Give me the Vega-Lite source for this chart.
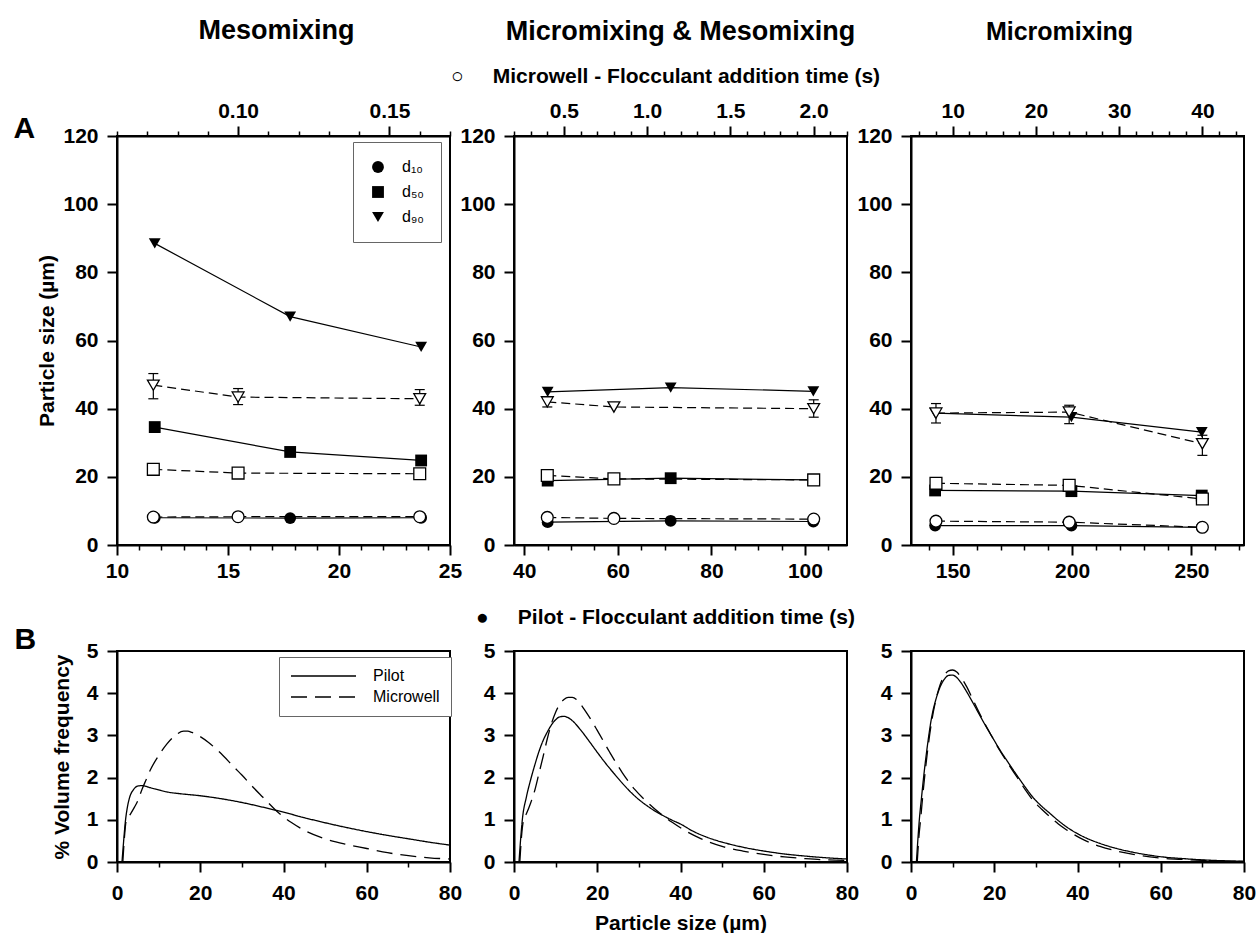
{
"$schema":"https://vega.github.io/schema/vega-lite/v6.json",
"background":"white",
"padding":{"left":12,"top":16,"right":5,"bottom":5},
"config":{
 "font":"Liberation Sans",
 "view":{"stroke":"black","strokeWidth":2},
 "axis":{"domainColor":"black","domainWidth":2,"tickColor":"black","tickWidth":2,"tickSize":10,"labelFont":"Liberation Sans","labelFontSize":21,"labelFontWeight":"bold","labelColor":"black","titleFont":"Liberation Sans","titleFontSize":21,"titleFontWeight":"bold","titleColor":"black","grid":false,"labelFlush":false,"labelOverlap":false},
 "title":{"font":"Liberation Sans","fontSize":27,"fontWeight":"bold","color":"black","anchor":"middle","frame":"group","baseline":"alphabetic"},
 "legend":{"labelFont":"Liberation Sans","labelFontSize":16,"labelColor":"black","strokeColor":"#666","fillColor":"white"}
},
"datasets":{
"psd":[
{"panel":"A1","source":"Pilot","stat":"d₁₀","t":11.7,"size":8.0},
{"panel":"A1","source":"Pilot","stat":"d₅₀","t":11.7,"size":34.6},
{"panel":"A1","source":"Pilot","stat":"d₉₀","t":11.7,"size":88.5},
{"panel":"A1","source":"Pilot","stat":"d₁₀","t":17.8,"size":7.9},
{"panel":"A1","source":"Pilot","stat":"d₅₀","t":17.8,"size":27.3},
{"panel":"A1","source":"Pilot","stat":"d₉₀","t":17.8,"size":67.0},
{"panel":"A1","source":"Pilot","stat":"d₁₀","t":23.7,"size":8.0},
{"panel":"A1","source":"Pilot","stat":"d₅₀","t":23.7,"size":24.8},
{"panel":"A1","source":"Pilot","stat":"d₉₀","t":23.7,"size":58.1},
{"panel":"A1","source":"Microwell","stat":"d₁₀","t":0.072,"size":8.2},
{"panel":"A1","source":"Microwell","stat":"d₅₀","t":0.072,"size":22.2,"lo":21.2,"hi":23.3},
{"panel":"A1","source":"Microwell","stat":"d₉₀","t":0.072,"size":46.9,"lo":42.9,"hi":50.3},
{"panel":"A1","source":"Microwell","stat":"d₁₀","t":0.1,"size":8.3},
{"panel":"A1","source":"Microwell","stat":"d₅₀","t":0.1,"size":21.1},
{"panel":"A1","source":"Microwell","stat":"d₉₀","t":0.1,"size":43.4,"lo":41.2,"hi":45.9},
{"panel":"A1","source":"Microwell","stat":"d₁₀","t":0.16,"size":8.3},
{"panel":"A1","source":"Microwell","stat":"d₅₀","t":0.16,"size":20.9},
{"panel":"A1","source":"Microwell","stat":"d₉₀","t":0.16,"size":42.9,"lo":41.0,"hi":45.6},
{"panel":"A2","source":"Pilot","stat":"d₁₀","t":45.0,"size":6.7},
{"panel":"A2","source":"Pilot","stat":"d₅₀","t":45.0,"size":18.9},
{"panel":"A2","source":"Pilot","stat":"d₉₀","t":45.0,"size":44.9},
{"panel":"A2","source":"Pilot","stat":"d₁₀","t":71.3,"size":7.1},
{"panel":"A2","source":"Pilot","stat":"d₅₀","t":71.3,"size":19.6},
{"panel":"A2","source":"Pilot","stat":"d₉₀","t":71.3,"size":46.2},
{"panel":"A2","source":"Pilot","stat":"d₁₀","t":101.8,"size":6.9},
{"panel":"A2","source":"Pilot","stat":"d₅₀","t":101.8,"size":19.1},
{"panel":"A2","source":"Pilot","stat":"d₉₀","t":101.8,"size":45.1},
{"panel":"A2","source":"Microwell","stat":"d₁₀","t":0.4,"size":8.1},
{"panel":"A2","source":"Microwell","stat":"d₅₀","t":0.4,"size":20.4},
{"panel":"A2","source":"Microwell","stat":"d₉₀","t":0.4,"size":42.0,"lo":40.5,"hi":43.4},
{"panel":"A2","source":"Microwell","stat":"d₁₀","t":0.8,"size":7.8},
{"panel":"A2","source":"Microwell","stat":"d₅₀","t":0.8,"size":19.4},
{"panel":"A2","source":"Microwell","stat":"d₉₀","t":0.8,"size":40.5},
{"panel":"A2","source":"Microwell","stat":"d₁₀","t":2.0,"size":7.6},
{"panel":"A2","source":"Microwell","stat":"d₅₀","t":2.0,"size":19.1},
{"panel":"A2","source":"Microwell","stat":"d₉₀","t":2.0,"size":40.0,"lo":37.5,"hi":42.6},
{"panel":"A3","source":"Pilot","stat":"d₁₀","t":142.6,"size":5.7},
{"panel":"A3","source":"Pilot","stat":"d₅₀","t":142.6,"size":16.0},
{"panel":"A3","source":"Pilot","stat":"d₉₀","t":142.6,"size":38.7},
{"panel":"A3","source":"Pilot","stat":"d₁₀","t":199.7,"size":5.7},
{"panel":"A3","source":"Pilot","stat":"d₅₀","t":199.7,"size":15.8},
{"panel":"A3","source":"Pilot","stat":"d₉₀","t":199.7,"size":37.5},
{"panel":"A3","source":"Pilot","stat":"d₁₀","t":254.3,"size":5.2},
{"panel":"A3","source":"Pilot","stat":"d₅₀","t":254.3,"size":14.5},
{"panel":"A3","source":"Pilot","stat":"d₉₀","t":254.3,"size":33.1},
{"panel":"A3","source":"Microwell","stat":"d₁₀","t":8,"size":7.0},
{"panel":"A3","source":"Microwell","stat":"d₅₀","t":8,"size":18.1},
{"panel":"A3","source":"Microwell","stat":"d₉₀","t":8,"size":38.7,"lo":35.8,"hi":41.5},
{"panel":"A3","source":"Microwell","stat":"d₁₀","t":24,"size":6.7},
{"panel":"A3","source":"Microwell","stat":"d₅₀","t":24,"size":17.5},
{"panel":"A3","source":"Microwell","stat":"d₉₀","t":24,"size":39.0,"lo":35.6,"hi":41.0},
{"panel":"A3","source":"Microwell","stat":"d₁₀","t":40,"size":5.2},
{"panel":"A3","source":"Microwell","stat":"d₅₀","t":40,"size":13.5},
{"panel":"A3","source":"Microwell","stat":"d₉₀","t":40,"size":29.7,"lo":26.3,"hi":32.2}
],
"dist":[
{"panel":"B1","source":"Pilot","x":1.2,"y":0},{"panel":"B1","source":"Pilot","x":1.6,"y":0.5},{"panel":"B1","source":"Pilot","x":2,"y":0.95},{"panel":"B1","source":"Pilot","x":2.5,"y":1.3},{"panel":"B1","source":"Pilot","x":3,"y":1.52},{"panel":"B1","source":"Pilot","x":4,"y":1.72},{"panel":"B1","source":"Pilot","x":5,"y":1.8},{"panel":"B1","source":"Pilot","x":6,"y":1.81},{"panel":"B1","source":"Pilot","x":7,"y":1.79},{"panel":"B1","source":"Pilot","x":8,"y":1.76},{"panel":"B1","source":"Pilot","x":10,"y":1.71},{"panel":"B1","source":"Pilot","x":12,"y":1.66},{"panel":"B1","source":"Pilot","x":15,"y":1.62},{"panel":"B1","source":"Pilot","x":20,"y":1.57},{"panel":"B1","source":"Pilot","x":25,"y":1.5},{"panel":"B1","source":"Pilot","x":30,"y":1.41},{"panel":"B1","source":"Pilot","x":35,"y":1.3},{"panel":"B1","source":"Pilot","x":40,"y":1.18},{"panel":"B1","source":"Pilot","x":45,"y":1.05},{"panel":"B1","source":"Pilot","x":50,"y":0.93},{"panel":"B1","source":"Pilot","x":55,"y":0.82},{"panel":"B1","source":"Pilot","x":60,"y":0.72},{"panel":"B1","source":"Pilot","x":65,"y":0.63},{"panel":"B1","source":"Pilot","x":70,"y":0.55},{"panel":"B1","source":"Pilot","x":75,"y":0.47},{"panel":"B1","source":"Pilot","x":80,"y":0.4},
{"panel":"B1","source":"Microwell","x":1.4,"y":0},{"panel":"B1","source":"Microwell","x":1.8,"y":0.6},{"panel":"B1","source":"Microwell","x":2.2,"y":0.97},{"panel":"B1","source":"Microwell","x":3,"y":1.1},{"panel":"B1","source":"Microwell","x":4.2,"y":1.3},{"panel":"B1","source":"Microwell","x":5,"y":1.45},{"panel":"B1","source":"Microwell","x":6,"y":1.72},{"panel":"B1","source":"Microwell","x":7,"y":1.95},{"panel":"B1","source":"Microwell","x":8,"y":2.18},{"panel":"B1","source":"Microwell","x":10,"y":2.52},{"panel":"B1","source":"Microwell","x":12,"y":2.8},{"panel":"B1","source":"Microwell","x":14,"y":3.0},{"panel":"B1","source":"Microwell","x":16,"y":3.1},{"panel":"B1","source":"Microwell","x":17,"y":3.1},{"panel":"B1","source":"Microwell","x":18,"y":3.07},{"panel":"B1","source":"Microwell","x":20,"y":2.97},{"panel":"B1","source":"Microwell","x":22,"y":2.83},{"panel":"B1","source":"Microwell","x":25,"y":2.57},{"panel":"B1","source":"Microwell","x":28,"y":2.26},{"panel":"B1","source":"Microwell","x":30,"y":2.06},{"panel":"B1","source":"Microwell","x":33,"y":1.74},{"panel":"B1","source":"Microwell","x":35,"y":1.54},{"panel":"B1","source":"Microwell","x":38,"y":1.24},{"panel":"B1","source":"Microwell","x":40,"y":1.07},{"panel":"B1","source":"Microwell","x":42,"y":0.93},{"panel":"B1","source":"Microwell","x":45,"y":0.75},{"panel":"B1","source":"Microwell","x":50,"y":0.55},{"panel":"B1","source":"Microwell","x":55,"y":0.42},{"panel":"B1","source":"Microwell","x":60,"y":0.32},{"panel":"B1","source":"Microwell","x":65,"y":0.22},{"panel":"B1","source":"Microwell","x":70,"y":0.15},{"panel":"B1","source":"Microwell","x":75,"y":0.1},{"panel":"B1","source":"Microwell","x":80,"y":0.07},
{"panel":"B2","source":"Pilot","x":1.2,"y":0},{"panel":"B2","source":"Pilot","x":1.6,"y":0.55},{"panel":"B2","source":"Pilot","x":2,"y":1.0},{"panel":"B2","source":"Pilot","x":3,"y":1.55},{"panel":"B2","source":"Pilot","x":4,"y":1.95},{"panel":"B2","source":"Pilot","x":5,"y":2.3},{"panel":"B2","source":"Pilot","x":6,"y":2.62},{"panel":"B2","source":"Pilot","x":7,"y":2.88},{"panel":"B2","source":"Pilot","x":8,"y":3.08},{"panel":"B2","source":"Pilot","x":9,"y":3.25},{"panel":"B2","source":"Pilot","x":10,"y":3.37},{"panel":"B2","source":"Pilot","x":11,"y":3.44},{"panel":"B2","source":"Pilot","x":12,"y":3.45},{"panel":"B2","source":"Pilot","x":13,"y":3.42},{"panel":"B2","source":"Pilot","x":14,"y":3.35},{"panel":"B2","source":"Pilot","x":16,"y":3.13},{"panel":"B2","source":"Pilot","x":18,"y":2.87},{"panel":"B2","source":"Pilot","x":20,"y":2.6},{"panel":"B2","source":"Pilot","x":22,"y":2.34},{"panel":"B2","source":"Pilot","x":24,"y":2.1},{"panel":"B2","source":"Pilot","x":26,"y":1.87},{"panel":"B2","source":"Pilot","x":28,"y":1.66},{"panel":"B2","source":"Pilot","x":30,"y":1.48},{"panel":"B2","source":"Pilot","x":32,"y":1.33},{"panel":"B2","source":"Pilot","x":34,"y":1.2},{"panel":"B2","source":"Pilot","x":36,"y":1.09},{"panel":"B2","source":"Pilot","x":38,"y":0.99},{"panel":"B2","source":"Pilot","x":40,"y":0.9},{"panel":"B2","source":"Pilot","x":43,"y":0.73},{"panel":"B2","source":"Pilot","x":46,"y":0.6},{"panel":"B2","source":"Pilot","x":50,"y":0.47},{"panel":"B2","source":"Pilot","x":55,"y":0.35},{"panel":"B2","source":"Pilot","x":60,"y":0.26},{"panel":"B2","source":"Pilot","x":65,"y":0.19},{"panel":"B2","source":"Pilot","x":70,"y":0.14},{"panel":"B2","source":"Pilot","x":75,"y":0.1},{"panel":"B2","source":"Pilot","x":80,"y":0.07},
{"panel":"B2","source":"Microwell","x":1.4,"y":0},{"panel":"B2","source":"Microwell","x":1.8,"y":0.6},{"panel":"B2","source":"Microwell","x":2.3,"y":1.0},{"panel":"B2","source":"Microwell","x":3,"y":1.15},{"panel":"B2","source":"Microwell","x":4,"y":1.4},{"panel":"B2","source":"Microwell","x":5,"y":1.7},{"panel":"B2","source":"Microwell","x":6,"y":2.1},{"panel":"B2","source":"Microwell","x":7,"y":2.5},{"panel":"B2","source":"Microwell","x":8,"y":2.92},{"panel":"B2","source":"Microwell","x":9,"y":3.28},{"panel":"B2","source":"Microwell","x":10,"y":3.55},{"panel":"B2","source":"Microwell","x":11,"y":3.74},{"panel":"B2","source":"Microwell","x":12,"y":3.85},{"panel":"B2","source":"Microwell","x":13,"y":3.9},{"panel":"B2","source":"Microwell","x":14,"y":3.9},{"panel":"B2","source":"Microwell","x":15,"y":3.85},{"panel":"B2","source":"Microwell","x":16,"y":3.74},{"panel":"B2","source":"Microwell","x":17,"y":3.6},{"panel":"B2","source":"Microwell","x":18,"y":3.45},{"panel":"B2","source":"Microwell","x":20,"y":3.12},{"panel":"B2","source":"Microwell","x":23,"y":2.6},{"panel":"B2","source":"Microwell","x":26,"y":2.12},{"panel":"B2","source":"Microwell","x":29,"y":1.72},{"panel":"B2","source":"Microwell","x":32,"y":1.42},{"panel":"B2","source":"Microwell","x":35,"y":1.16},{"panel":"B2","source":"Microwell","x":38,"y":0.94},{"panel":"B2","source":"Microwell","x":40,"y":0.81},{"panel":"B2","source":"Microwell","x":45,"y":0.55},{"panel":"B2","source":"Microwell","x":50,"y":0.37},{"panel":"B2","source":"Microwell","x":55,"y":0.26},{"panel":"B2","source":"Microwell","x":60,"y":0.18},{"panel":"B2","source":"Microwell","x":65,"y":0.12},{"panel":"B2","source":"Microwell","x":70,"y":0.08},{"panel":"B2","source":"Microwell","x":75,"y":0.05},{"panel":"B2","source":"Microwell","x":80,"y":0.04},
{"panel":"B3","source":"Pilot","x":1.3,"y":0},{"panel":"B3","source":"Pilot","x":1.7,"y":0.6},{"panel":"B3","source":"Pilot","x":2,"y":1.0},{"panel":"B3","source":"Pilot","x":2.5,"y":1.5},{"panel":"B3","source":"Pilot","x":3,"y":1.98},{"panel":"B3","source":"Pilot","x":4,"y":2.8},{"panel":"B3","source":"Pilot","x":5,"y":3.45},{"panel":"B3","source":"Pilot","x":6,"y":3.86},{"panel":"B3","source":"Pilot","x":7,"y":4.15},{"panel":"B3","source":"Pilot","x":8,"y":4.33},{"panel":"B3","source":"Pilot","x":9,"y":4.42},{"panel":"B3","source":"Pilot","x":10,"y":4.43},{"panel":"B3","source":"Pilot","x":11,"y":4.37},{"panel":"B3","source":"Pilot","x":12,"y":4.25},{"panel":"B3","source":"Pilot","x":13.4,"y":4.03},{"panel":"B3","source":"Pilot","x":15,"y":3.75},{"panel":"B3","source":"Pilot","x":17.4,"y":3.32},{"panel":"B3","source":"Pilot","x":19.4,"y":2.98},{"panel":"B3","source":"Pilot","x":21.4,"y":2.65},{"panel":"B3","source":"Pilot","x":23.4,"y":2.35},{"panel":"B3","source":"Pilot","x":25.4,"y":2.06},{"panel":"B3","source":"Pilot","x":27.4,"y":1.78},{"panel":"B3","source":"Pilot","x":29.4,"y":1.52},{"panel":"B3","source":"Pilot","x":31.4,"y":1.32},{"panel":"B3","source":"Pilot","x":33.4,"y":1.15},{"panel":"B3","source":"Pilot","x":35.4,"y":0.98},{"panel":"B3","source":"Pilot","x":37.4,"y":0.83},{"panel":"B3","source":"Pilot","x":41.4,"y":0.6},{"panel":"B3","source":"Pilot","x":45.4,"y":0.44},{"panel":"B3","source":"Pilot","x":49.4,"y":0.32},{"panel":"B3","source":"Pilot","x":53.4,"y":0.23},{"panel":"B3","source":"Pilot","x":57.4,"y":0.16},{"panel":"B3","source":"Pilot","x":61.4,"y":0.11},{"panel":"B3","source":"Pilot","x":65.4,"y":0.08},{"panel":"B3","source":"Pilot","x":70,"y":0.05},{"panel":"B3","source":"Pilot","x":75,"y":0.03},{"panel":"B3","source":"Pilot","x":80,"y":0.02},
{"panel":"B3","source":"Microwell","x":1.5,"y":0},{"panel":"B3","source":"Microwell","x":1.9,"y":0.6},{"panel":"B3","source":"Microwell","x":2.3,"y":1.0},{"panel":"B3","source":"Microwell","x":3,"y":1.75},{"panel":"B3","source":"Microwell","x":4,"y":2.65},{"panel":"B3","source":"Microwell","x":5,"y":3.35},{"panel":"B3","source":"Microwell","x":6,"y":3.85},{"panel":"B3","source":"Microwell","x":7,"y":4.2},{"panel":"B3","source":"Microwell","x":8,"y":4.42},{"panel":"B3","source":"Microwell","x":9,"y":4.53},{"panel":"B3","source":"Microwell","x":10,"y":4.55},{"panel":"B3","source":"Microwell","x":11,"y":4.5},{"panel":"B3","source":"Microwell","x":12,"y":4.38},{"panel":"B3","source":"Microwell","x":13.4,"y":4.15},{"panel":"B3","source":"Microwell","x":15,"y":3.82},{"panel":"B3","source":"Microwell","x":17.4,"y":3.34},{"panel":"B3","source":"Microwell","x":19.4,"y":2.98},{"panel":"B3","source":"Microwell","x":21.4,"y":2.63},{"panel":"B3","source":"Microwell","x":23.4,"y":2.32},{"panel":"B3","source":"Microwell","x":25.4,"y":2.02},{"panel":"B3","source":"Microwell","x":27.4,"y":1.72},{"panel":"B3","source":"Microwell","x":29.4,"y":1.45},{"panel":"B3","source":"Microwell","x":31.4,"y":1.25},{"panel":"B3","source":"Microwell","x":33.4,"y":1.07},{"panel":"B3","source":"Microwell","x":35.4,"y":0.9},{"panel":"B3","source":"Microwell","x":37.4,"y":0.76},{"panel":"B3","source":"Microwell","x":41.4,"y":0.53},{"panel":"B3","source":"Microwell","x":45.4,"y":0.37},{"panel":"B3","source":"Microwell","x":49.4,"y":0.26},{"panel":"B3","source":"Microwell","x":53.4,"y":0.18},{"panel":"B3","source":"Microwell","x":57.4,"y":0.12},{"panel":"B3","source":"Microwell","x":61.4,"y":0.08},{"panel":"B3","source":"Microwell","x":65.4,"y":0.06},{"panel":"B3","source":"Microwell","x":70,"y":0.04},{"panel":"B3","source":"Microwell","x":75,"y":0.02},{"panel":"B3","source":"Microwell","x":80,"y":0.01}
]
},
"columns":3,
"spacing":{"row":106,"column":64},
"bounds":"flush",
"resolve":{"scale":{"shape":"independent","strokeDash":"independent"},"legend":{"shape":"independent","strokeDash":"independent"}},
"concat":[
{
 "width":333,"height":409,
 "title":{"text":"Mesomixing","offset":55,"dx":-7},
 "data":{"name":"psd"},
 "transform":[{"filter":"datum.panel === 'A1'"}],
 "resolve":{"scale":{"x":"independent"}},
 "layer":[
  {"transform":[{"filter":"datum.source === 'Pilot'"}],
   "encoding":{"y":{"field":"size","type":"quantitative","scale":{"domain":[0,120],"nice":false},"axis":{"values":[0,20,40,60,80,100,120],"title":"Particle size (µm)","titlePadding":5,"labelPadding":9}}},
   "resolve":{"axis":{"x":"independent"}},
   "layer":[
    {"mark":{"type":"line","color":"black","strokeWidth":1.2},"encoding":{"x":{"field":"t","type":"quantitative","scale":{"domain":[10,25],"nice":false,"zero":false},"axis":{"orient":"bottom","values":[10,15,20,25],"tickSize":10,"labelPadding":5,"title":null}},"detail":{"field":"stat","type":"nominal"}}},
    {"mark":{"type":"point","filled":true,"color":"black","size":140,"opacity":1},"encoding":{"x":{"field":"t","type":"quantitative","scale":{"domain":[10,25],"nice":false,"zero":false},"axis":{"orient":"bottom","values":[11,12,13,14,16,17,18,19,21,22,23,24],"labels":false,"domain":false,"tickSize":5,"tickWidth":1.5,"title":null}},"shape":{"field":"stat","type":"nominal","scale":{"domain":["d₁₀","d₅₀","d₉₀"],"range":["circle","square","triangle-down"]},"legend":{"orient":"none","legendX":236,"legendY":6,"title":null,"padding":17,"symbolSize":140,"symbolFillColor":"black","symbolStrokeColor":"black","symbolStrokeWidth":0,"labelOffset":16,"rowPadding":9}}}}
   ]},
  {"transform":[{"filter":"datum.source === 'Microwell'"}],
   "encoding":{"y":{"field":"size","type":"quantitative","scale":{"domain":[0,120],"nice":false},"axis":{"values":[0,20,40,60,80,100,120],"title":"Particle size (µm)","titlePadding":5,"labelPadding":9}}},
   "resolve":{"axis":{"x":"independent"}},
   "layer":[
    {"encoding":{"x":{"field":"t","type":"quantitative","scale":{"domain":[0.06,0.17],"nice":false,"zero":false},"axis":{"orient":"top","values":[0.1,0.15],"format":".2f","tickSize":10,"labelPadding":5,"title":"A","titleFontSize":30,"titleX":-104,"titleY":1,"titleAlign":"left","titleBaseline":"alphabetic","titleAngle":0}}},
     "layer":[
      {"mark":{"type":"line","color":"black","strokeWidth":1.2,"strokeDash":[9,5]},"encoding":{"detail":{"field":"stat","type":"nominal"}}},
      {"transform":[{"filter":"isValid(datum.lo)"}],"mark":{"type":"rule","color":"black","strokeWidth":1.2},"encoding":{"y":{"field":"lo","type":"quantitative","scale":{"domain":[0,120],"nice":false},"axis":{"values":[0,20,40,60,80,100,120],"title":"Particle size (µm)","titlePadding":5,"labelPadding":9}},"y2":{"field":"hi"}}},
      {"transform":[{"filter":"isValid(datum.lo)"}],"mark":{"type":"tick","orient":"horizontal","size":10,"thickness":1.2,"color":"black","opacity":1},"encoding":{"y":{"field":"lo","type":"quantitative","scale":{"domain":[0,120],"nice":false},"axis":{"values":[0,20,40,60,80,100,120],"title":"Particle size (µm)","titlePadding":5,"labelPadding":9}}}},
      {"transform":[{"filter":"isValid(datum.hi)"}],"mark":{"type":"tick","orient":"horizontal","size":10,"thickness":1.2,"color":"black","opacity":1},"encoding":{"y":{"field":"hi","type":"quantitative","scale":{"domain":[0,120],"nice":false},"axis":{"values":[0,20,40,60,80,100,120],"title":"Particle size (µm)","titlePadding":5,"labelPadding":9}}}}
     ]},
    {"mark":{"type":"point","filled":true,"fill":"white","stroke":"black","strokeWidth":1.3,"size":140,"opacity":1},"encoding":{"x":{"field":"t","type":"quantitative","scale":{"domain":[0.06,0.17],"nice":false,"zero":false},"axis":{"orient":"top","values":[0.06,0.07,0.08,0.09,0.11,0.12,0.13,0.14,0.16,0.17],"labels":false,"domain":false,"tickSize":5,"tickWidth":1.5,"title":null}},"shape":{"field":"stat","type":"nominal","scale":{"domain":["d₁₀","d₅₀","d₉₀"],"range":["circle","square","triangle-down"]},"legend":null}}}
   ]}
 ]
},
{
 "width":333,"height":409,
 "title":{"text":"Micromixing & Mesomixing","offset":19},
 "data":{"name":"psd"},
 "transform":[{"filter":"datum.panel === 'A2'"}],
 "resolve":{"scale":{"x":"independent"}},
 "layer":[
  {"transform":[{"filter":"datum.source === 'Pilot'"}],
   "encoding":{"y":{"field":"size","type":"quantitative","scale":{"domain":[0,120],"nice":false},"axis":{"values":[0,20,40,60,80,100,120],"title":null,"labelPadding":9}}},
   "resolve":{"axis":{"x":"independent"}},
   "layer":[
    {"mark":{"type":"line","color":"black","strokeWidth":1.2},"encoding":{"x":{"field":"t","type":"quantitative","scale":{"domain":[37.8,109],"nice":false,"zero":false},"axis":{"orient":"bottom","values":[40,60,80,100],"tickSize":10,"labelPadding":5,"title":"●\u00a0\u00a0\u00a0\u00a0\u00a0Pilot - Flocculant addition time (s)","titleX":151,"titleY":72,"titleAlign":"center","titleBaseline":"middle"}},"detail":{"field":"stat","type":"nominal"}}},
    {"mark":{"type":"point","filled":true,"color":"black","size":140,"opacity":1},"encoding":{"x":{"field":"t","type":"quantitative","scale":{"domain":[37.8,109],"nice":false,"zero":false},"axis":{"orient":"bottom","values":[45,50,55,65,70,75,85,90,95,105],"labels":false,"domain":false,"tickSize":5,"tickWidth":1.5,"title":null}},"shape":{"field":"stat","type":"nominal","scale":{"domain":["d₁₀","d₅₀","d₉₀"],"range":["circle","square","triangle-down"]},"legend":null}}}
   ]},
  {"transform":[{"filter":"datum.source === 'Microwell'"}],
   "encoding":{"y":{"field":"size","type":"quantitative","scale":{"domain":[0,120],"nice":false},"axis":{"values":[0,20,40,60,80,100,120],"title":null,"labelPadding":9}}},
   "resolve":{"axis":{"x":"independent"}},
   "layer":[
    {"encoding":{"x":{"field":"t","type":"quantitative","scale":{"domain":[0.2,2.2],"nice":false,"zero":false},"axis":{"orient":"top","values":[0.5,1,1.5,2],"format":".1f","tickSize":10,"labelPadding":5,"title":"○\u00a0\u00a0\u00a0\u00a0\u00a0Microwell - Flocculant addition time (s)","titleX":151,"titleY":-60,"titleAlign":"center","titleBaseline":"middle"}}},
     "layer":[
      {"mark":{"type":"line","color":"black","strokeWidth":1.2,"strokeDash":[9,5]},"encoding":{"detail":{"field":"stat","type":"nominal"}}},
      {"transform":[{"filter":"isValid(datum.lo)"}],"mark":{"type":"rule","color":"black","strokeWidth":1.2},"encoding":{"y":{"field":"lo","type":"quantitative","scale":{"domain":[0,120],"nice":false},"axis":{"values":[0,20,40,60,80,100,120],"title":null,"labelPadding":9}},"y2":{"field":"hi"}}},
      {"transform":[{"filter":"isValid(datum.lo)"}],"mark":{"type":"tick","orient":"horizontal","size":10,"thickness":1.2,"color":"black","opacity":1},"encoding":{"y":{"field":"lo","type":"quantitative","scale":{"domain":[0,120],"nice":false},"axis":{"values":[0,20,40,60,80,100,120],"title":null,"labelPadding":9}}}},
      {"transform":[{"filter":"isValid(datum.hi)"}],"mark":{"type":"tick","orient":"horizontal","size":10,"thickness":1.2,"color":"black","opacity":1},"encoding":{"y":{"field":"hi","type":"quantitative","scale":{"domain":[0,120],"nice":false},"axis":{"values":[0,20,40,60,80,100,120],"title":null,"labelPadding":9}}}}
     ]},
    {"mark":{"type":"point","filled":true,"fill":"white","stroke":"black","strokeWidth":1.3,"size":140,"opacity":1},"encoding":{"x":{"field":"t","type":"quantitative","scale":{"domain":[0.2,2.2],"nice":false,"zero":false},"axis":{"orient":"top","values":[0.2,0.3,0.4,0.6,0.7,0.8,0.9,1.1,1.2,1.3,1.4,1.6,1.7,1.8,1.9,2.1,2.2],"labels":false,"domain":false,"tickSize":5,"tickWidth":1.5,"title":null}},"shape":{"field":"stat","type":"nominal","scale":{"domain":["d₁₀","d₅₀","d₉₀"],"range":["circle","square","triangle-down"]},"legend":null}}}
   ]}
 ]
},
{
 "width":333,"height":409,
 "title":{"text":"Micromixing","offset":55,"dx":-18,"fontSize":25},
 "data":{"name":"psd"},
 "transform":[{"filter":"datum.panel === 'A3'"}],
 "resolve":{"scale":{"x":"independent"}},
 "layer":[
  {"transform":[{"filter":"datum.source === 'Pilot'"}],
   "encoding":{"y":{"field":"size","type":"quantitative","scale":{"domain":[0,120],"nice":false},"axis":{"values":[0,20,40,60,80,100,120],"title":null,"labelPadding":9}}},
   "resolve":{"axis":{"x":"independent"}},
   "layer":[
    {"mark":{"type":"line","color":"black","strokeWidth":1.2},"encoding":{"x":{"field":"t","type":"quantitative","scale":{"domain":[132.5,272],"nice":false,"zero":false},"axis":{"orient":"bottom","values":[150,200,250],"tickSize":10,"labelPadding":5,"title":null}},"detail":{"field":"stat","type":"nominal"}}},
    {"mark":{"type":"point","filled":true,"color":"black","size":140,"opacity":1},"encoding":{"x":{"field":"t","type":"quantitative","scale":{"domain":[132.5,272],"nice":false,"zero":false},"axis":{"orient":"bottom","values":[140,160,170,180,190,210,220,230,240,260,270],"labels":false,"domain":false,"tickSize":5,"tickWidth":1.5,"title":null}},"shape":{"field":"stat","type":"nominal","scale":{"domain":["d₁₀","d₅₀","d₉₀"],"range":["circle","square","triangle-down"]},"legend":null}}}
   ]},
  {"transform":[{"filter":"datum.source === 'Microwell'"}],
   "encoding":{"y":{"field":"size","type":"quantitative","scale":{"domain":[0,120],"nice":false},"axis":{"values":[0,20,40,60,80,100,120],"title":null,"labelPadding":9}}},
   "resolve":{"axis":{"x":"independent"}},
   "layer":[
    {"encoding":{"x":{"field":"t","type":"quantitative","scale":{"domain":[5,45],"nice":false,"zero":false},"axis":{"orient":"top","values":[10,20,30,40],"tickSize":10,"labelPadding":5,"title":null}}},
     "layer":[
      {"mark":{"type":"line","color":"black","strokeWidth":1.2,"strokeDash":[9,5]},"encoding":{"detail":{"field":"stat","type":"nominal"}}},
      {"transform":[{"filter":"isValid(datum.lo)"}],"mark":{"type":"rule","color":"black","strokeWidth":1.2},"encoding":{"y":{"field":"lo","type":"quantitative","scale":{"domain":[0,120],"nice":false},"axis":{"values":[0,20,40,60,80,100,120],"title":null,"labelPadding":9}},"y2":{"field":"hi"}}},
      {"transform":[{"filter":"isValid(datum.lo)"}],"mark":{"type":"tick","orient":"horizontal","size":10,"thickness":1.2,"color":"black","opacity":1},"encoding":{"y":{"field":"lo","type":"quantitative","scale":{"domain":[0,120],"nice":false},"axis":{"values":[0,20,40,60,80,100,120],"title":null,"labelPadding":9}}}},
      {"transform":[{"filter":"isValid(datum.hi)"}],"mark":{"type":"tick","orient":"horizontal","size":10,"thickness":1.2,"color":"black","opacity":1},"encoding":{"y":{"field":"hi","type":"quantitative","scale":{"domain":[0,120],"nice":false},"axis":{"values":[0,20,40,60,80,100,120],"title":null,"labelPadding":9}}}}
     ]},
    {"mark":{"type":"point","filled":true,"fill":"white","stroke":"black","strokeWidth":1.3,"size":140,"opacity":1},"encoding":{"x":{"field":"t","type":"quantitative","scale":{"domain":[5,45],"nice":false,"zero":false},"axis":{"orient":"top","values":[6,8,12,14,16,18,22,24,26,28,32,34,36,38,42,44],"labels":false,"domain":false,"tickSize":5,"tickWidth":1.5,"title":null}},"shape":{"field":"stat","type":"nominal","scale":{"domain":["d₁₀","d₅₀","d₉₀"],"range":["circle","square","triangle-down"]},"legend":null}}}
   ]}
 ]
},
{
 "width":333,"height":211,
 "data":{"name":"dist"},
 "transform":[{"filter":"datum.panel === 'B1'"}],
 "encoding":{"y":{"field":"y","type":"quantitative","scale":{"domain":[0,5],"nice":false},"axis":{"values":[0,1,2,3,4,5],"title":"% Volume frequency","titlePadding":14,"labelPadding":9}}},
 "resolve":{"axis":{"x":"independent"}},
 "layer":[
  {"transform":[{"filter":"datum.source === 'Pilot'"}],"mark":{"type":"line","color":"black","strokeWidth":1.3,"interpolate":"monotone"},
   "encoding":{"x":{"field":"x","type":"quantitative","scale":{"domain":[0,80],"nice":false},"axis":{"orient":"bottom","values":[0,20,40,60,80],"tickSize":10,"labelPadding":10,"title":"B","titleFontSize":30,"titleX":-103,"titleY":-214,"titleAlign":"left","titleBaseline":"alphabetic"}},
    "strokeDash":{"field":"source","type":"nominal","scale":{"domain":["Pilot","Microwell"],"range":[[1,0],[16,8]]},"legend":{"orient":"none","legendX":162,"legendY":6,"title":null,"padding":11,"symbolType":"stroke","symbolSize":4225,"symbolStrokeWidth":1.3,"symbolStrokeColor":"black","labelOffset":16,"rowPadding":5,"clipHeight":16}}}},
  {"transform":[{"filter":"datum.source === 'Microwell'"}],"mark":{"type":"line","color":"black","strokeWidth":1.3,"interpolate":"monotone"},
   "encoding":{"x":{"field":"x","type":"quantitative","scale":{"domain":[0,80],"nice":false},"axis":{"orient":"bottom","values":[10,30,50,70],"labels":false,"domain":false,"tickSize":5,"tickWidth":1.5,"title":null}},
    "strokeDash":{"field":"source","type":"nominal","scale":{"domain":["Pilot","Microwell"],"range":[[1,0],[16,8]]},"legend":{"orient":"none","legendX":162,"legendY":6,"title":null,"padding":11,"symbolType":"stroke","symbolSize":4225,"symbolStrokeWidth":1.3,"symbolStrokeColor":"black","labelOffset":16,"rowPadding":5,"clipHeight":16}}}}
 ]
},
{
 "width":333,"height":211,
 "data":{"name":"dist"},
 "transform":[{"filter":"datum.panel === 'B2'"}],
 "encoding":{"y":{"field":"y","type":"quantitative","scale":{"domain":[0,5],"nice":false},"axis":{"values":[0,1,2,3,4,5],"title":null,"labelPadding":9}}},
 "resolve":{"axis":{"x":"independent"}},
 "layer":[
  {"transform":[{"filter":"datum.source === 'Pilot'"}],"mark":{"type":"line","color":"black","strokeWidth":1.3,"interpolate":"monotone"},
   "encoding":{"x":{"field":"x","type":"quantitative","scale":{"domain":[0,80],"nice":false},"axis":{"orient":"bottom","values":[0,20,40,60,80],"tickSize":10,"labelPadding":10,"title":"Particle size (µm)","titlePadding":9}},
    "strokeDash":{"field":"source","type":"nominal","scale":{"domain":["Pilot","Microwell"],"range":[[1,0],[16,8]]},"legend":null}}},
  {"transform":[{"filter":"datum.source === 'Microwell'"}],"mark":{"type":"line","color":"black","strokeWidth":1.3,"interpolate":"monotone"},
   "encoding":{"x":{"field":"x","type":"quantitative","scale":{"domain":[0,80],"nice":false},"axis":{"orient":"bottom","values":[10,30,50,70],"labels":false,"domain":false,"tickSize":5,"tickWidth":1.5,"title":null}},
    "strokeDash":{"field":"source","type":"nominal","scale":{"domain":["Pilot","Microwell"],"range":[[1,0],[16,8]]},"legend":null}}}
 ]
},
{
 "width":333,"height":211,
 "data":{"name":"dist"},
 "transform":[{"filter":"datum.panel === 'B3'"}],
 "encoding":{"y":{"field":"y","type":"quantitative","scale":{"domain":[0,5],"nice":false},"axis":{"values":[0,1,2,3,4,5],"title":null,"labelPadding":9}}},
 "resolve":{"axis":{"x":"independent"}},
 "layer":[
  {"transform":[{"filter":"datum.source === 'Pilot'"}],"mark":{"type":"line","color":"black","strokeWidth":1.3,"interpolate":"monotone"},
   "encoding":{"x":{"field":"x","type":"quantitative","scale":{"domain":[0,80],"nice":false},"axis":{"orient":"bottom","values":[0,20,40,60,80],"tickSize":10,"labelPadding":10,"title":null}},
    "strokeDash":{"field":"source","type":"nominal","scale":{"domain":["Pilot","Microwell"],"range":[[1,0],[16,8]]},"legend":null}}},
  {"transform":[{"filter":"datum.source === 'Microwell'"}],"mark":{"type":"line","color":"black","strokeWidth":1.3,"interpolate":"monotone"},
   "encoding":{"x":{"field":"x","type":"quantitative","scale":{"domain":[0,80],"nice":false},"axis":{"orient":"bottom","values":[10,30,50,70],"labels":false,"domain":false,"tickSize":5,"tickWidth":1.5,"title":null}},
    "strokeDash":{"field":"source","type":"nominal","scale":{"domain":["Pilot","Microwell"],"range":[[1,0],[16,8]]},"legend":null}}}
 ]
}
]
}
